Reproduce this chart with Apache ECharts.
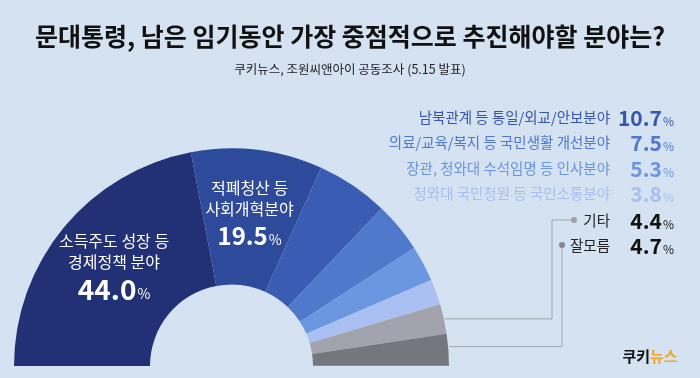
<!DOCTYPE html>
<html>
<head>
<meta charset="utf-8">
<script src="https://cdn.jsdelivr.net/npm/echarts@6/dist/echarts.min.js"></script>
<style>
  html, body { margin: 0; padding: 0; background: #d4e2f1; }
  #main { width: 700px; height: 378px; }
</style>
</head>
<body>
<div id="main"></div>
<script>
// 데이터
var categories = ['소득주도 성장 등 경제정책 분야', '적폐청산 등 사회개혁분야', '남북관계 등 통일/외교/안보분야',
  '의료/교육/복지 등 국민생활 개선분야', '장관, 청와대 수석임명 등 인사분야', '청와대 국민청원 등 국민소통분야', '기타', '잘모름'];
var values = [44.0, 19.5, 10.7, 7.5, 5.3, 3.8, 4.4, 4.7];
var colors = ['#223075', '#2e4a9a', '#3b5cb3', '#5079cb', '#6a97df', '#aabff2', '#a3a3ae', '#76767e'];
// 조각 안쪽 라벨 (줄바꿈)
var insideLabels = ['소득주도 성장 등\n경제정책 분야', '적폐청산 등\n사회개혁분야'];
// 오른쪽 라벨 색
var sideColors = ['#3656ad', '#4f78cc', '#6b96de', '#a9bfee', '#222', '#222'];

var FONT = 'Noto Sans CJK KR';
var cx = 231.5, cy = 366, r0 = 81.5, r1 = 217.5;
var blank = 100; // 반원용 빈 조각
var total = values.reduce(function (a, b) { return a + b; }, 0) + blank;

var myChart = echarts.init(document.getElementById('main'));

var pieData = values.map(function (v, i) {
  var d = { name: categories[i], value: v, itemStyle: { color: colors[i] } };
  if (i < insideLabels.length) {
    var lines = insideLabels[i].split('\n');
    var big = i === 0 ? 'v0' : 'v1';
    d.label = {
      show: true,
      position: 'inside',
      formatter: '{n|' + lines[0] + '}\n{n|' + lines[1] + '}\n{' + big + '|' + v.toFixed(1) + '}{p|%}'
    };
  } else {
    d.label = { show: false };
  }
  return d;
});
pieData.push({ name: '', value: blank, itemStyle: { color: 'rgba(0,0,0,0)' }, label: { show: false }, emphasis: { disabled: true } });

// 오른쪽 라벨
var rowY = [117, 142, 168, 193, 220, 245];
var graphics = [];
for (var i = 2; i < values.length; i++) {
  var k = i - 2;
  graphics.push({
    type: 'text', x: 610, y: rowY[k],
    style: { text: categories[i], fill: sideColors[k], font: '14.5px "' + FONT + '"', align: 'right', verticalAlign: 'middle' }
  });
  graphics.push({
    type: 'text', x: 674, y: rowY[k] + 1,
    style: {
      text: '{v|' + values[i].toFixed(1) + '}{p|%}',
      align: 'right', verticalAlign: 'middle',
      rich: {
        v: { fontFamily: FONT, fontWeight: 'bold', fontSize: 21, fill: i >= 6 ? '#111' : sideColors[k] },
        p: { fontFamily: FONT, fontSize: 12, fill: i >= 6 ? '#111' : sideColors[k], padding: [7, 0, 0, 1] }
      }
    }
  });
}

// 기타, 잘모름 지시선: 조각 가운데 각도에서 시작
function midPoint(idx) {
  var before = 0;
  for (var j = 0; j < idx; j++) before += values[j];
  var mid = before + values[idx] / 2;
  var ang = (180 - mid / total * 360) * Math.PI / 180;
  return [cx + r1 * Math.cos(ang), cy - r1 * Math.sin(ang)];
}
var p6 = midPoint(6), p7 = midPoint(7);
var lineStyle = { stroke: '#a2a4ad', lineWidth: 1, fill: null };
graphics.push({ type: 'polyline', shape: { points: [[p6[0] + 1, p6[1]], [552, p6[1]], [552, rowY[4]], [574, rowY[4]]] }, style: lineStyle });
graphics.push({ type: 'polyline', shape: { points: [[p7[0] + 1, p7[1] - 3], [562, p7[1] - 3], [562, rowY[5]]] }, style: lineStyle });
graphics.push({ type: 'circle', shape: { cx: 574, cy: rowY[4], r: 3 }, style: { fill: '#a0a0aa' } });
graphics.push({ type: 'circle', shape: { cx: 562, cy: rowY[5], r: 3 }, style: { fill: '#85858e' } });

// 로고
graphics.push({
  type: 'text', x: 650, y: 356,
  style: {
    text: '{a|쿠키}{b|뉴스}', align: 'center', verticalAlign: 'middle',
    rich: {
      a: { fontFamily: FONT, fontWeight: 'bold', fontSize: 15, fill: '#111' },
      b: { fontFamily: FONT, fontWeight: 'bold', fontSize: 15, fill: '#f5a623' }
    }
  }
});

var option = {
  backgroundColor: '#d4e2f1',
  animation: false,
  title: [
    {
      text: '문대통령, 남은 임기동안 가장 중점적으로 추진해야할 분야는?',
      left: 'center', top: 19,
      textStyle: { fontFamily: FONT, fontWeight: 'bold', fontSize: 25, color: '#111' }
    },
    {
      text: '쿠키뉴스, 조원씨앤아이 공동조사 (5.15 발표)',
      left: 'center', top: 58,
      textStyle: { fontFamily: FONT, fontWeight: 'normal', fontSize: 12.5, color: '#222' }
    }
  ],
  series: [
    {
      type: 'pie',
      center: [cx, cy],
      radius: [r0, r1],
      startAngle: 180,
      clockwise: true,
      avoidLabelOverlap: false,
      silent: true,
      labelLine: { show: false },
      label: {
        color: '#fff',
        rich: {
          n: { fontFamily: FONT, fontSize: 16, color: '#fff', lineHeight: 21 },
          v0: { fontFamily: FONT, fontWeight: 'bold', fontSize: 28, color: '#fff', lineHeight: 34 },
          v1: { fontFamily: FONT, fontWeight: 'bold', fontSize: 24, color: '#fff', lineHeight: 32 },
          p: { fontFamily: FONT, fontSize: 14, color: '#fff', padding: [8, 0, 0, 1] }
        }
      },
      data: pieData
    }
  ],
  graphic: graphics
};
myChart.setOption(option);
window.onresize = myChart.resize;
</script>
</body>
</html>
